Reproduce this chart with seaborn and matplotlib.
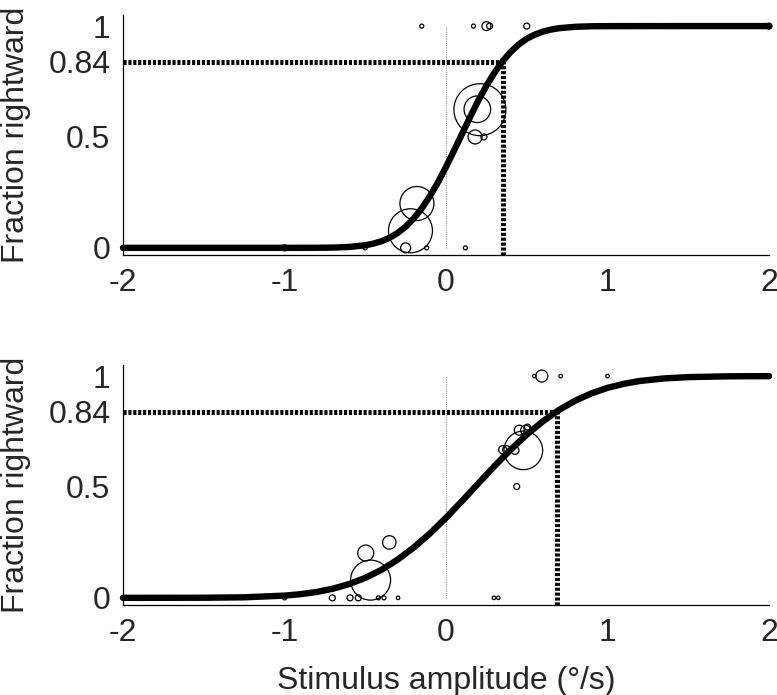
import numpy as np
import pandas as pd
import matplotlib
matplotlib.use("Agg")
import matplotlib.pyplot as plt
import seaborn as sns

# ---------------- data ----------------
# Panel A (top): fitted psychometric curve
curve_a_x = [-2.0, -1.5, -1.0, -0.8, -0.7, -0.6, -0.5, -0.45, -0.4, -0.35, -0.3, -0.25, -0.2,
             -0.15, -0.1, -0.05, 0.0, 0.05, 0.1, 0.15, 0.2, 0.25, 0.3, 0.35, 0.4, 0.45,
             0.5, 0.55, 0.6, 0.65, 0.7, 0.8, 0.9, 1.0, 1.5, 2.0]
curve_a_y = [0.0, 0.0, 0.0, 0.0003, 0.0012, 0.004, 0.0116, 0.019, 0.0297, 0.0455, 0.0668, 0.095, 0.132,
             0.178, 0.233, 0.295, 0.365, 0.439, 0.515, 0.591, 0.664, 0.731, 0.790, 0.841, 0.883, 0.917,
             0.943, 0.9616, 0.975, 0.9844, 0.9905, 0.9968, 0.9991, 0.9998, 1.0, 1.0]
threshold_a = 0.35

# Panel A data points (stimulus, fraction rightward, number of trials)
pts_a_x = [-2.0, -1.0, -0.5, -0.25, -0.12, 0.12, -0.22, -0.18, 0.18, 0.235, 0.194, 0.21,
           -0.15, 0.17, 0.25, 0.27, 0.5, 2.0]
pts_a_y = [0.0, 0.0, 0.0, 0.0, 0.0, 0.0, 0.077, 0.20, 0.50, 0.50, 0.625, 0.623,
           1.0, 1.0, 1.0, 1.0, 1.0, 1.0]
pts_a_n = [4, 9, 4, 25, 4, 4, 484, 289, 49, 9, 177, 676,
           4, 4, 20, 9, 9, 9]

# Panel B (bottom): fitted psychometric curve
curve_b_x = [-2.0, -1.5, -1.25, -1.0, -0.9, -0.8, -0.7, -0.6, -0.5, -0.4, -0.3, -0.2, -0.1,
             0.0, 0.1, 0.2, 0.3, 0.4, 0.5, 0.6, 0.7, 0.8, 0.9, 1.0, 1.1, 1.2, 1.35, 1.5,
             1.75, 2.0]
curve_b_y = [0.0, 0.0005, 0.0024, 0.010, 0.0166, 0.0266, 0.0413, 0.062, 0.090, 0.126, 0.172, 0.227, 0.290,
             0.361, 0.437, 0.516, 0.594, 0.668, 0.736, 0.796, 0.8475, 0.889, 0.922, 0.947, 0.965, 0.978, 0.9895, 0.9953,
             0.999, 0.9998]
threshold_b = 0.69

pts_b_x = [-2.0, -1.0, -0.704, -0.594, -0.543, -0.419, -0.384, -0.297, 0.297, 0.324,
           -0.467, -0.497, -0.351, 0.438, 0.351, 0.376, 0.427, 0.479, 0.454, 0.493, 0.505,
           0.547, 0.593, 0.71, 1.0, 2.0]
pts_b_y = [0.0, 0.0, 0.0, 0.0, 0.0, 0.0, 0.0, 0.0, 0.0, 0.0,
           0.08, 0.202, 0.25, 0.502, 0.668, 0.668, 0.665, 0.665, 0.756, 0.756, 0.77,
           1.0, 1.0, 1.0, 1.0, 1.0]
pts_b_n = [4, 4, 9, 9, 9, 4, 4, 3, 3, 3,
           400, 64, 45, 9, 16, 16, 16, 372, 25, 25, 9,
           3, 36, 3, 3, 6]

x_ticks = [-2, -1, 0, 1, 2]
x_tick_labels = ["-2", "-1", "0", "1", "2"]
y_ticks = [0, 0.5, 0.84, 1]
y_tick_labels = ["0", "0.5", "0.84", "1"]
y_label = "Fraction rightward"
x_label = "Stimulus amplitude (°/s)"

# ---------------- style ----------------
sns.set_style("white")
plt.rcParams["font.family"] = ["Liberation Sans", "DejaVu Sans"]
plt.rcParams["axes.unicode_minus"] = False
FS = 23

W, H = 777, 695
fig = plt.figure(figsize=(W / 100, H / 100), dpi=100)
ax_left = 123 / W
ax_w = 646 / W
ax_h = 239.5 / H
ax_top = fig.add_axes([ax_left, 1 - 254.5 / H, ax_w, ax_h])
ax_bot = fig.add_axes([ax_left, 1 - 604.5 / H, ax_w, ax_h])

AREA_PER_TRIAL = 2.0736  # points^2 per trial
DOT = (0, (0.62, 0.36))


def draw_panel(ax, cx, cy, thr, px, py, pn):
    # vertical reference line at zero
    ax.plot([0, 0], [0, 1], color="0.55", lw=0.8, ls=(0, (1, 1)), zorder=1)
    # threshold guides
    ax.plot([-2, thr], [0.84, 0.84], color="black", lw=3.6, ls=DOT,
            dash_capstyle="butt", zorder=2, clip_on=False)
    ax.plot([thr, thr], [-0.03, 0.84], color="black", lw=3.6, ls=DOT,
            dash_capstyle="butt", zorder=2, clip_on=False)
    # data circles
    df = pd.DataFrame({"x": px, "y": py, "n": pn})
    sns.scatterplot(data=df, x="x", y="y", size="n", sizes=(0, 1000 * AREA_PER_TRIAL),
                    size_norm=(0, 1000), marker="o", facecolors="none", edgecolor="black",
                    linewidth=0.9, legend=False, ax=ax, zorder=3, clip_on=False)
    # fitted curve
    cdf = pd.DataFrame({"x": cx, "y": cy})
    sns.lineplot(data=cdf, x="x", y="y", color="black", lw=4.6, ax=ax, zorder=4,
                 sort=True, estimator=None)
    for l in ax.lines:
        l.set_clip_on(False)

    ax.set_xlim(-2, 2)
    ax.set_ylim(-0.03, 1.05)
    ax.set_xticks(x_ticks)
    ax.set_xticklabels(x_tick_labels, fontsize=FS)
    ax.set_yticks(y_ticks)
    ax.set_yticklabels(y_tick_labels, fontsize=FS)
    ax.tick_params(direction="in", length=6, width=0.8, color="black", pad=9)
    ax.tick_params(axis="x", pad=10)
    for s in ["top", "right"]:
        ax.spines[s].set_visible(False)
    for s in ["left", "bottom"]:
        ax.spines[s].set_color("black")
        ax.spines[s].set_linewidth(0.9)
    ax.set_xlabel("")
    ax.set_ylabel(y_label, fontsize=FS)
    ax.yaxis.set_label_coords((31 - 123) / 646, 0.5)
    ax.patch.set_alpha(0)


draw_panel(ax_top, curve_a_x, curve_a_y, threshold_a, pts_a_x, pts_a_y, pts_a_n)
draw_panel(ax_bot, curve_b_x, curve_b_y, threshold_b, pts_b_x, pts_b_y, pts_b_n)
ax_bot.set_xlabel(x_label, fontsize=FS, labelpad=13)

fig.savefig("out.png", dpi=100)
